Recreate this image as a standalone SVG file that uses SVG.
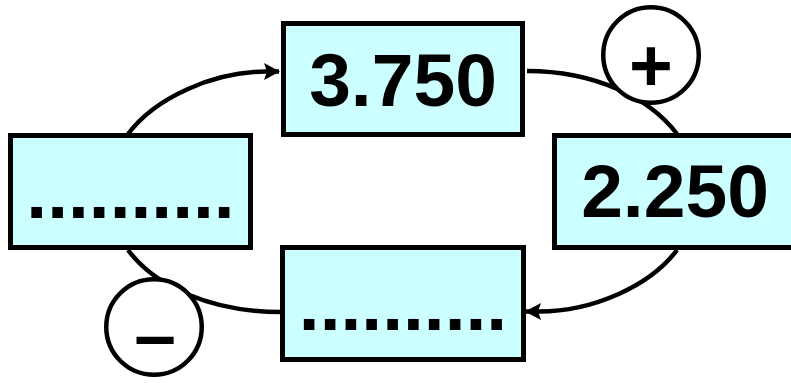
<svg xmlns="http://www.w3.org/2000/svg" width="791" height="383" viewBox="0 0 791 383">
<style>
.box{fill:#ccffff;stroke:#000;stroke-width:5}
.t{font-family:"Liberation Sans",Arial,sans-serif;font-weight:bold;font-size:75px;fill:#000;text-anchor:middle}
.c{fill:none;stroke:#000;stroke-width:4.5}
.sign{fill:#fff;stroke:#000;stroke-width:4.5}
</style>
<defs>
<marker id="arr" markerUnits="userSpaceOnUse" markerWidth="20" markerHeight="20" viewBox="-17 -10 19 20" refX="0" refY="0" orient="auto">
<path d="M1,0 L-15,-8.5 L-12,0 L-15,8.5 Z" fill="#000"/>
</marker>
</defs>
<g id="connectors">
<path class="c" d="M128,134 C155,98 212,72 266,71.5 L279,71.5" marker-end="url(#arr)"/>
<path class="c" d="M527,71 C595,71 650,98 677,134"/>
<path class="c" d="M677,250 C650,286 593,311.5 539,311.5 L526,311.5" marker-end="url(#arr)"/>
<path class="c" d="M128,250 C155,286 210,312 281,312"/>
</g>
<g id="n-top">
<rect class="box" x="283.5" y="23.5" width="239" height="111"/>
<text class="t" x="403" y="106">3.750</text>
</g>
<g id="n-right">
<rect class="box" x="554.5" y="135.5" width="250" height="112"/>
<text class="t" x="675" y="217">2.250</text>
</g>
<g id="n-left">
<rect class="box" x="10.5" y="135.5" width="240" height="112"/>
<text class="t" x="130.5" y="218">..........</text>
</g>
<g id="n-bottom">
<rect class="box" x="282.5" y="247.5" width="241" height="112"/>
<text class="t" x="403" y="330">..........</text>
</g>
<g id="plus">
<circle class="sign" cx="651" cy="55" r="47.75"/>
<text class="t" x="651" y="91">+</text>
</g>
<g id="minus">
<circle class="sign" cx="154" cy="327" r="47.75"/>
<text class="t" x="155" y="360">–</text>
</g>
</svg>
